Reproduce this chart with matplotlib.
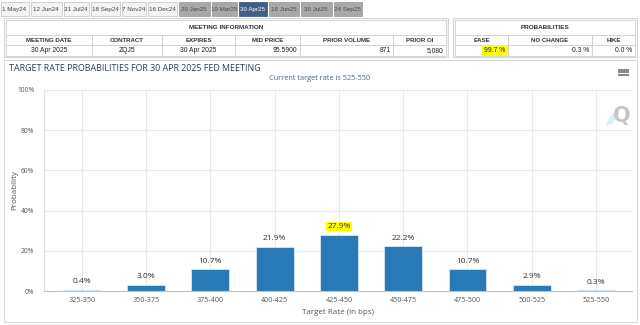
import matplotlib
matplotlib.use("Agg")
import matplotlib.pyplot as plt
from matplotlib.patches import Rectangle

# ---- data ----
meeting_tabs = ["1 May24", "12 Jun24", "31 Jul24", "18 Sep24", "7 Nov24", "16 Dec24",
                "29 Jan25", "19 Mar25", "30 Apr25", "18 Jun25", "30 Jul25", "24 Sep25"]
active_tab = "30 Apr25"
past_tabs = ["1 May24", "12 Jun24", "31 Jul24", "18 Sep24", "7 Nov24", "16 Dec24"]

info_headers = ["MEETING DATE", "CONTRACT", "EXPIRES", "MID PRICE", "PRIOR VOLUME", "PRIOR OI"]
info_values = ["30 Apr 2025", "ZQJ5", "30 Apr 2025", "95.5900", "871", "5,080"]
info_align = ["center", "center", "center", "right", "right", "right"]

prob_headers = ["EASE", "NO CHANGE", "HIKE"]
prob_values = [99.7, 0.3, 0.0]

target_ranges = ["325-350", "350-375", "375-400", "400-425", "425-450",
                 "450-475", "475-500", "500-525", "525-550"]
probabilities = [0.4, 3.0, 10.7, 21.9, 27.9, 22.2, 10.7, 2.9, 0.3]
highlighted = "425-450"
y_ticks = [0, 20, 40, 60, 80, 100]

chart_title = "TARGET RATE PROBABILITIES FOR 30 APR 2025 FED MEETING"
chart_subtitle = "Current target rate is 525-550"

# ---- page ----
W, H = 640, 325
fig = plt.figure(figsize=(W / 100, H / 100), dpi=100)
page = fig.add_axes([0, 0, 1, 1])
page.set_xlim(0, W)
page.set_ylim(H, 0)
page.axis("off")

UI = "Liberation Sans"
BORDER = "#cfcfcf"

# meeting tabs
tab_edges = [0, 30, 63, 90, 121, 147, 178, 211, 238, 268, 300, 333, 363]
for i, name in enumerate(meeting_tabs):
    x0, x1 = tab_edges[i], tab_edges[i + 1] - 1
    if name == active_tab:
        fc, tc, ec = "#3f5f87", "white", "#3f5f87"
    elif name in past_tabs:
        fc, tc, ec = "#f4f4f4", "#444444", "#c8c8c8"
    else:
        fc, tc, ec = "#a8a8a8", "#4a4a4a", "#a0a0a0"
    page.add_patch(Rectangle((x0 + 0.5, 2), x1 - x0 - 0.5, 14, fc=fc, ec=ec, lw=0.6))
    page.text((x0 + x1) / 2, 9.3, name, ha="center", va="center",
              fontsize=4.5, color=tc, family=UI)


def cell(x0, y0, x1, y1, fc="white"):
    page.add_patch(Rectangle((x0, y0), x1 - x0, y1 - y0, fc=fc, ec=BORDER, lw=0.6))


# meeting information table
cell(4, 18, 448, 57, fc="#f7f7f7")
cell(6, 20, 446, 35)
page.text(226, 27.5, "MEETING INFORMATION", ha="center", va="center",
          fontsize=4.6, weight="bold", color="#333333", family=UI)
info_edges = [6, 92, 162, 235, 300, 393, 446]
for i, (hdr, val) in enumerate(zip(info_headers, info_values)):
    x0, x1 = info_edges[i], info_edges[i + 1]
    cell(x0, 35, x1, 45)
    cell(x0, 45, x1, 55.5)
    page.text((x0 + x1) / 2, 40.2, hdr, ha="center", va="center",
              fontsize=4.4, weight="bold", color="#333333", family=UI)
    if info_align[i] == "center":
        page.text((x0 + x1) / 2, 50.5, val, ha="center", va="center",
                  fontsize=4.9, color="#222222", family=UI)
    else:
        page.text(x1 - 2.5, 50.5, val, ha="right", va="center",
                  fontsize=4.9, color="#222222", family=UI)

# probabilities table
cell(453, 18, 637, 57, fc="#f7f7f7")
cell(455, 20, 635, 35)
page.text(545, 27.5, "PROBABILITIES", ha="center", va="center",
          fontsize=4.6, weight="bold", color="#333333", family=UI)
prob_edges = [455, 508, 592, 635]
for i, (hdr, val) in enumerate(zip(prob_headers, prob_values)):
    x0, x1 = prob_edges[i], prob_edges[i + 1]
    cell(x0, 35, x1, 45)
    cell(x0, 45, x1, 55.5)
    page.text((x0 + x1) / 2, 40.2, hdr, ha="center", va="center",
              fontsize=4.4, weight="bold", color="#333333", family=UI)
    box = None
    if val == max(prob_values):
        box = dict(boxstyle="square,pad=0.3", fc="#ffff00", ec="none")
    page.text(x1 - 2.5, 50.5, f"{val:.1f} %", ha="right", va="center",
              fontsize=4.9, color="#222222", family=UI, bbox=box)

# chart container
cell(4, 60, 637, 322)
page.text(9, 68.5, chart_title, ha="left", va="center",
          fontsize=6.4, color="#2f3f52", family="Open Sans")
page.text(320, 79, chart_subtitle, ha="center", va="center",
          fontsize=5.3, color="#4e6682", family="Open Sans")
# menu icon
for yy in (69.5, 72, 74.5):
    page.plot([618, 629], [yy, yy], color="#666666", lw=1.1, solid_capstyle="butt")
# watermark logo
for k in range(6):
    page.plot([606 + k * 1.3, 613 + k * 1.3], [125 - k * 0.3, 113 - k * 0.3],
              color="#bfe3f6", lw=0.4)
page.text(622, 116, "Q", ha="center", va="center", fontsize=15,
          weight="bold", color="#c6c6c6", family="DejaVu Sans")

# ---- bar chart ----
left, right, top, bottom = 44, 632, 90, 291
ax = fig.add_axes([left / W, (H - bottom) / H, (right - left) / W, (bottom - top) / H])
ax.patch.set_alpha(0)
x = list(range(len(target_ranges)))
ax.set_xlim(-0.59, len(target_ranges) - 0.44)
ax.set_ylim(0, 100)
ax.set_yticks(y_ticks)
ax.set_yticklabels([f"{t}%" for t in y_ticks])
ax.set_xticks(x)
ax.set_xticklabels(target_ranges)
ax.grid(True, color="#e8e8e8", lw=0.8)
ax.set_axisbelow(True)
for s in ("top", "right"):
    ax.spines[s].set_visible(False)
ax.spines["left"].set_color("#e0e0e0")
ax.spines["left"].set_linewidth(0.8)
ax.spines["bottom"].set_color("#c0c0c0")
ax.spines["bottom"].set_linewidth(0.8)
ax.tick_params(axis="both", length=0, labelsize=5.2, labelcolor="#555555", pad=4)
ax.tick_params(axis="y", pad=7, labelsize=4.8)
for lab in ax.get_xticklabels() + ax.get_yticklabels():
    lab.set_family("Open Sans")

ax.bar(x, probabilities, width=0.59, color="#2a7ab8", edgecolor="white", linewidth=0.4)
for xi, (rng, p) in enumerate(zip(target_ranges, probabilities)):
    box = None
    if rng == highlighted:
        box = dict(boxstyle="square,pad=0.12", fc="#ffff00", ec="none")
    ax.annotate(f"{p:.1f}%", (xi, p), xytext=(0, 3.5), textcoords="offset points",
                ha="center", va="bottom", fontsize=6, color="#333333",
                family="Open Sans", bbox=box)

ax.set_xlabel("Target Rate (in bps)", fontsize=5.8, color="#555555",
              family="Open Sans", labelpad=4)

# y-axis title sits in the container margin
page.text(15, (top + bottom) / 2, "Probability", rotation=90, ha="center", va="center",
          fontsize=5.8, color="#555555", family="Open Sans")

fig.savefig("out.png", dpi=100)
